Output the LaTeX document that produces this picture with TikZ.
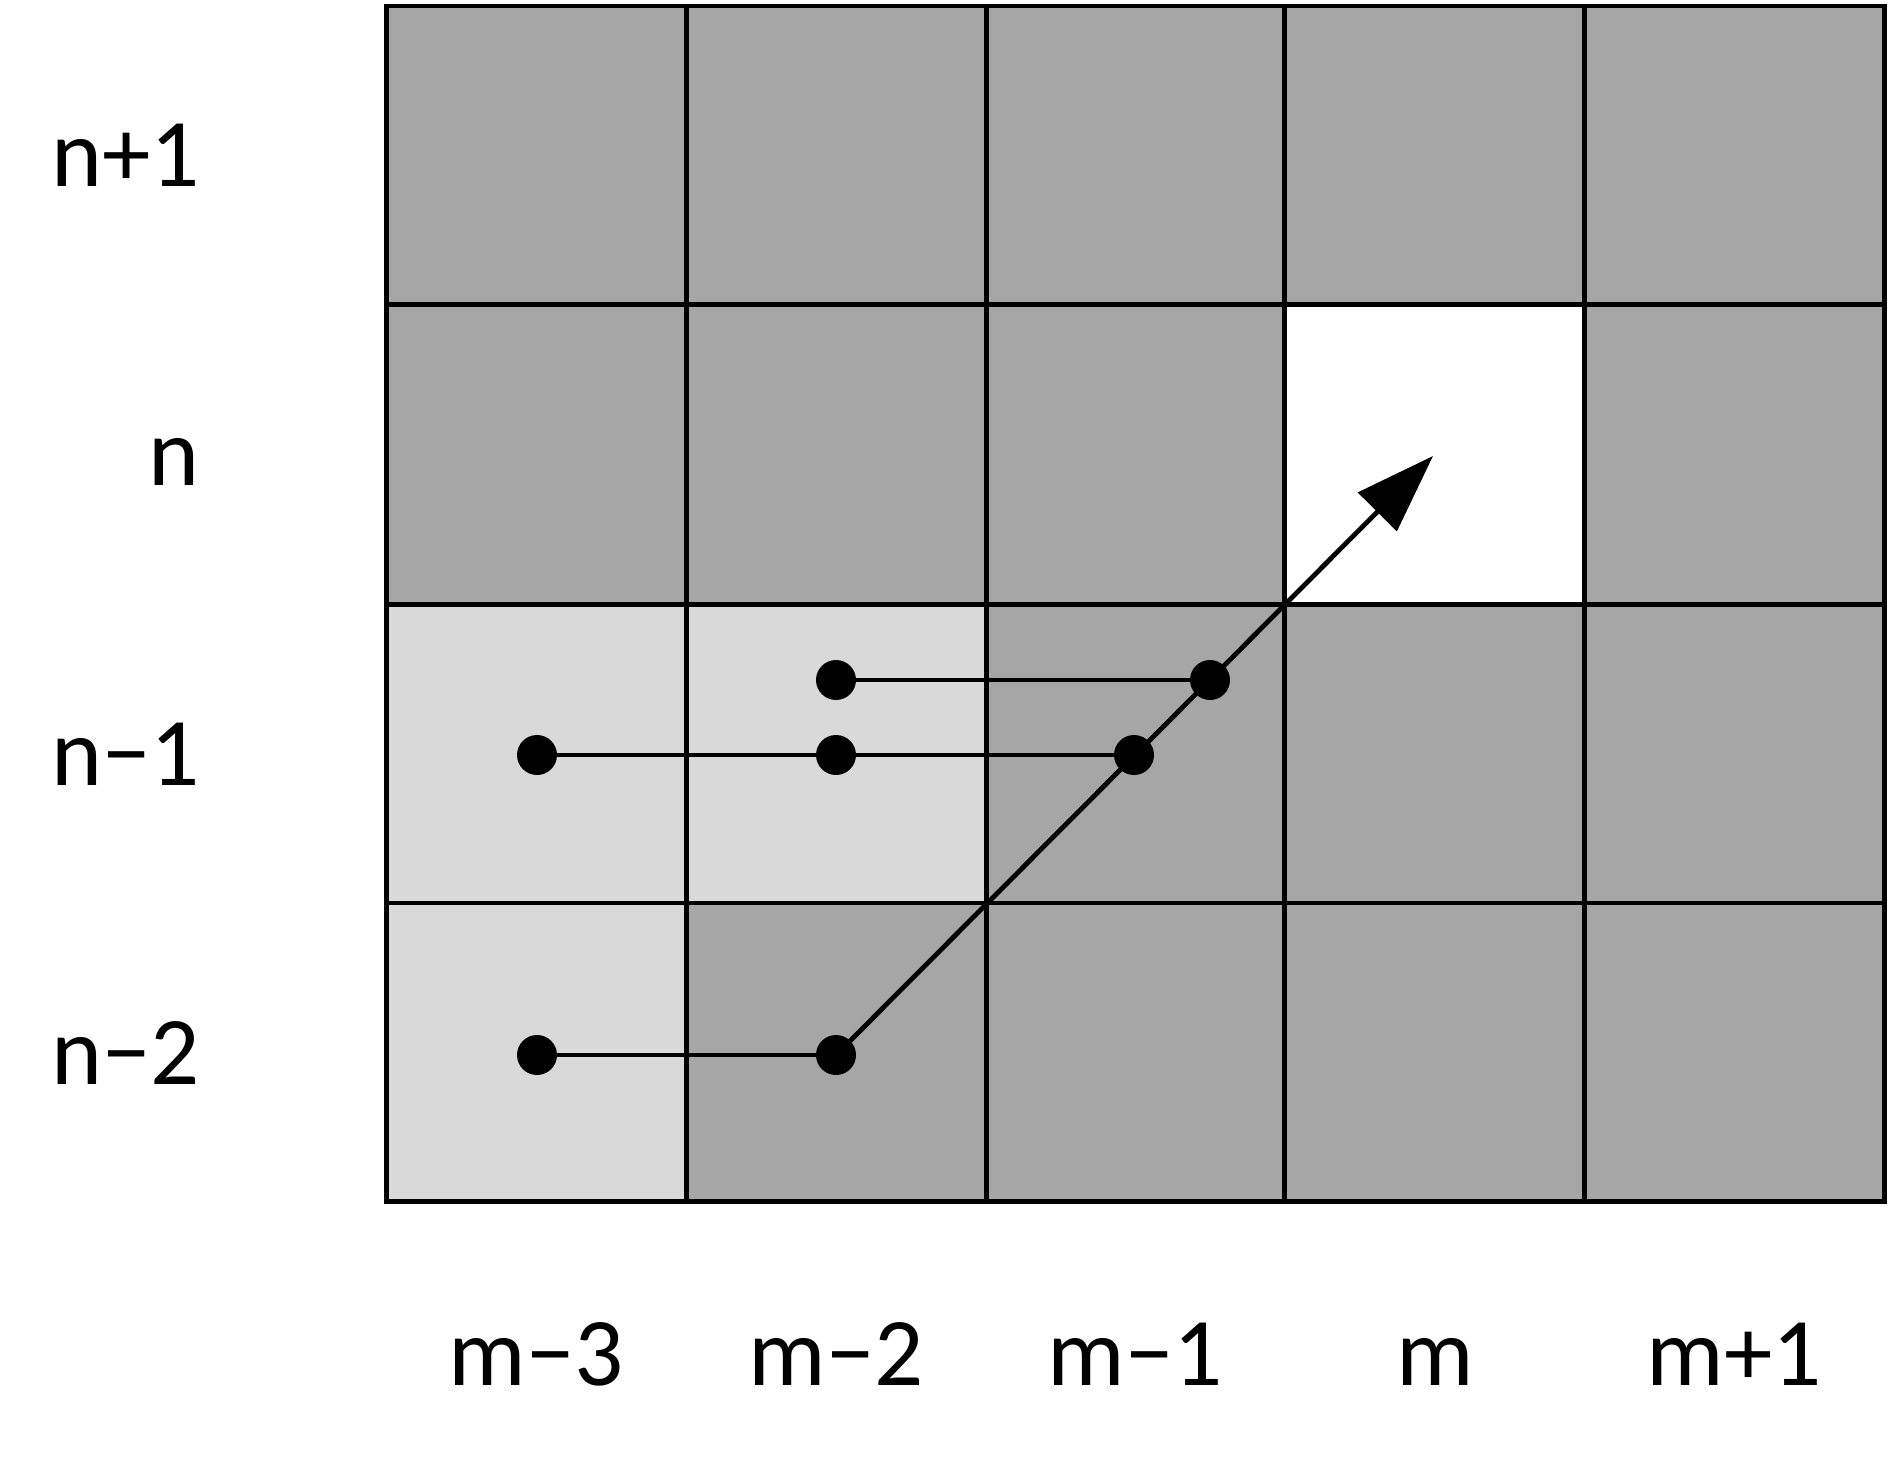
\documentclass[tikz,border=0pt]{standalone}
\usepackage{fontspec}
\setmainfont{Carlito}
\usetikzlibrary{arrows.meta}
\definecolor{darkg}{RGB}{166,166,166}
\definecolor{lightg}{RGB}{217,217,217}
\begin{document}
\begin{tikzpicture}[x=1pt,y=-1pt,
  gline/.style={line width=4.8pt,line cap=rect},
  conn/.style={line width=4.8pt},
  dot/.style={circle,fill=black,inner sep=0pt,minimum size=40pt},
  lbl/.style={inner sep=0pt,font=\fontsize{97}{115}\selectfont}]
\useasboundingbox (0,0) rectangle (1888,1463);
% cells
\fill[darkg] (386.5,6) rectangle (1884.4,1201.7);
\fill[lightg] (386.5,604.4) rectangle (986.2,903);
\fill[lightg] (386.5,903) rectangle (686.3,1201.7);
\fill[white] (1284.8,304.6) rectangle (1584.6,604.4);
% grid
\foreach \x in {386.5,686.3,986.2,1284.8,1584.6,1884.4}
  \draw[gline] (\x,6) -- (\x,1201.7);
\foreach \y in {6,304.6,604.4,903,1201.7}
  \draw[gline] (386.5,\y) -- (1884.4,\y);
% row labels
\node[lbl,anchor=base east] (r1) at (200,187) {n+1};
\node[lbl,anchor=base east] (r2) at (200,485) {n};
\node[lbl,anchor=base east] (r3) at (200,785) {n−1};
\node[lbl,anchor=base east] (r4) at (200,1084) {n−2};
% column labels
\node[lbl,anchor=base] (c1) at (536,1385) {m−3};
\node[lbl,anchor=base] (c2) at (836,1385) {m−2};
\node[lbl,anchor=base] (c3) at (1135,1385) {m−1};
\node[lbl,anchor=base] (c4) at (1435,1385) {m};
\node[lbl,anchor=base] (c5) at (1734,1385) {m+1};
% dots
\node[dot] (a1) at (537,755) {};
\node[dot] (a2) at (836,755) {};
\node[dot] (a3) at (1134,755) {};
\node[dot] (b1) at (836,680) {};
\node[dot] (b2) at (1210,680) {};
\node[dot] (d1) at (537,1055) {};
\node[dot] (d2) at (836,1055) {};
\coordinate (tip) at (1433,456);
% connectors
\draw[conn] (a1) -- (a2) -- (a3);
\draw[conn] (b1) -- (b2);
\draw[conn] (d1) -- (d2);
\draw[conn,-{Triangle[length=79pt,width=54pt]}] (d2.center) -- (tip);
\end{tikzpicture}
\end{document}
